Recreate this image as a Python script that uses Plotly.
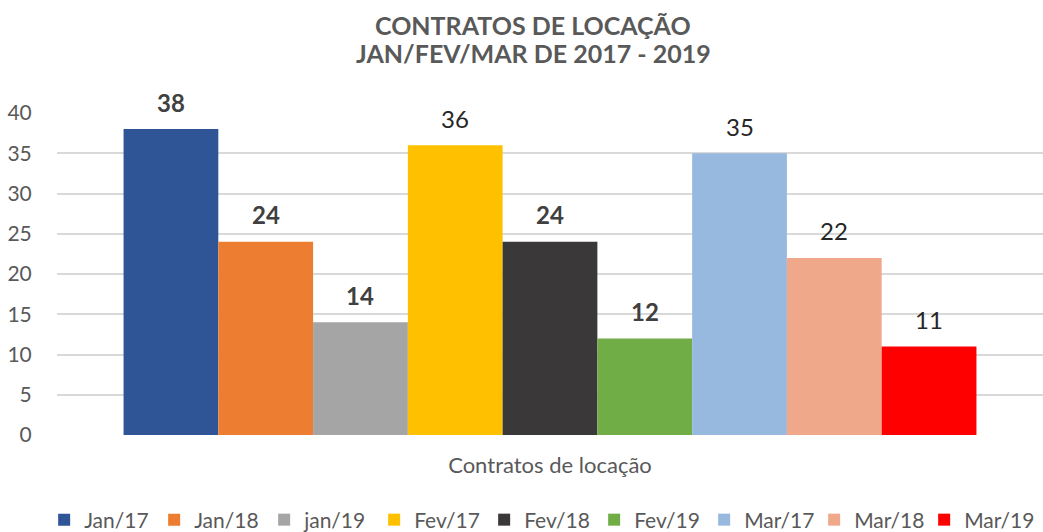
import plotly.graph_objects as go

category = "Contratos de locação"
series_names = ["Jan/17", "Jan/18", "jan/19", "Fev/17", "Fev/18", "Fev/19", "Mar/17", "Mar/18", "Mar/19"]
values = [38, 24, 14, 36, 24, 12, 35, 22, 11]
bold_labels = [True, True, True, False, True, True, False, False, False]
colors = ["#2F5597", "#ED7D31", "#A5A5A5", "#FFC000", "#3A3838", "#70AD47", "#97B9E0", "#F0A88A", "#FF0000"]
y_ticks = [0, 5, 10, 15, 20, 25, 30, 35, 40]
title_lines = ["CONTRATOS DE LOCAÇÃO", "JAN/FEV/MAR DE 2017 - 2019"]

FONT = "Lato"
GREY = "#595959"
bargap = 0.135

fig = go.Figure()
for name, v, c in zip(series_names, values, colors):
    fig.add_trace(go.Bar(name=name, x=[category], y=[v], marker=dict(color=c, line=dict(width=0)),
                         hoverinfo="name+y"))

n = len(values)
w = (1 - bargap) / n
for i, (v, b) in enumerate(zip(values, bold_labels)):
    txt = f"<b>{v}</b>" if b else str(v)
    fig.add_annotation(x=(i - (n - 1) / 2) * w, y=v, xref="x", yref="y", text=txt, showarrow=False,
                       yanchor="middle", yshift=27,
                       font=dict(family=FONT, size=24, color="#404040" if b else "#262626"))

for line, yp in zip(title_lines, [1.273, 1.186]):
    fig.add_annotation(x=0.483, y=yp, xref="paper", yref="paper", text=f"<b>{line}</b>",
                       showarrow=False, xanchor="center", yanchor="middle",
                       font=dict(family=FONT, size=25, color=GREY))

fig.update_layout(
    width=1043, height=532,
    margin=dict(l=57, r=0, t=113, b=97, autoexpand=False),
    barmode="group", bargap=bargap, bargroupgap=0,
    plot_bgcolor="white", paper_bgcolor="white",
    font=dict(family=FONT, color=GREY),
    xaxis=dict(showgrid=False, showline=False, zeroline=False,
               ticks="outside", ticklen=11, tickcolor="rgba(0,0,0,0)",
               tickfont=dict(family=FONT, size=22, color=GREY)),
    yaxis=dict(range=[0, 40], tickvals=y_ticks, showgrid=True, gridcolor="#D9D9D9", gridwidth=1.5,
               zeroline=False, showline=False,
               ticks="outside", ticklen=20, tickcolor="rgba(0,0,0,0)",
               tickfont=dict(family=FONT, size=21, color=GREY)),
    legend=dict(orientation="h", x=0.489, xanchor="center", y=-0.264, yanchor="middle",
                font=dict(family=FONT, size=21, color=GREY), itemclick=False, tracegroupgap=0,
                entrywidth=65, entrywidthmode="pixels", itemwidth=30),
    showlegend=True,
)

fig.write_html("out.html", config={"displayModeBar": False},
               post_script="document.body.style.margin='0px';document.body.style.overflow='hidden';")
